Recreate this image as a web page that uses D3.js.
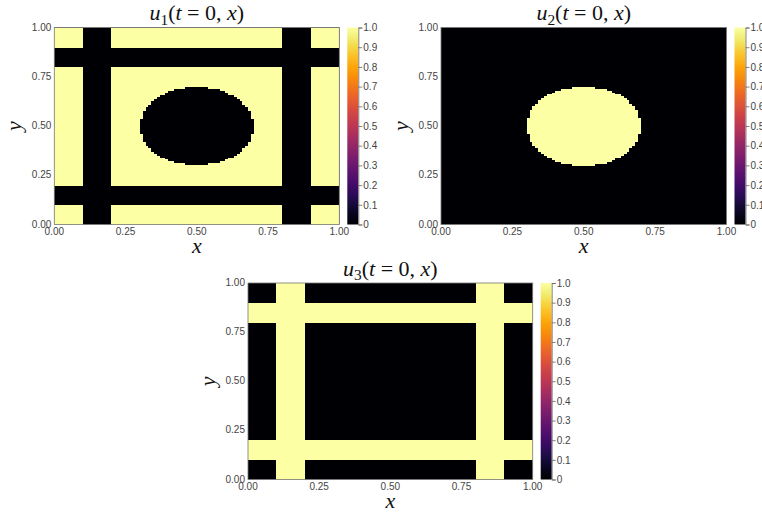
<!DOCTYPE html>
<html>
<head>
<meta charset="utf-8">
<script src="https://cdn.jsdelivr.net/npm/d3@7"></script>
<style>
  body { margin: 0; background: #fff; }
  .tick-label { font-family: "Liberation Sans", Arial, sans-serif; font-size: 10px; fill: #444; }
  .math { font-family: "Liberation Serif", "Times New Roman", serif; fill: #111; }
</style>
</head>
<body>
<div id="chart"></div>
<script>
'use strict';

// grid resolution of the initial condition
var gridN = 100;

// stripe bands (same in x and y), circle in the middle
var stripeBands = [[0.1, 0.2], [0.8, 0.9]];
var circleCenter = [0.5, 0.5];
var circleRadius = 0.2;

var axisTicks = [0, 0.25, 0.5, 0.75, 1];
var axisTickLabels = ['0.00', '0.25', '0.50', '0.75', '1.00'];
var colorTicks = [0, 0.1, 0.2, 0.3, 0.4, 0.5, 0.6, 0.7, 0.8, 0.9, 1.0];
var colorTickLabels = ['0', '0.1', '0.2', '0.3', '0.4', '0.5', '0.6', '0.7', '0.8', '0.9', '1.0'];

var panelNames = ['1', '2', '3'];

var width = 762, height = 512;

var svg = d3.select('#chart').append('svg')
    .attr('width', width)
    .attr('height', height);

var color = d3.scaleSequential(d3.interpolateInferno).domain([0, 1]);

var inBand = function(v){
    return stripeBands.some(function(b){ return v >= b[0] && v <= b[1]; });
};
var inStripe = function(x, y){
    return inBand(x) || inBand(y);
};
var inCircle = function(x, y){
    var dx = x - circleCenter[0], dy = y - circleCenter[1];
    return dx * dx + dy * dy <= circleRadius * circleRadius;
};

var fields = [
    function(x, y){ return (inStripe(x, y) || inCircle(x, y)) ? 0 : 1; },
    function(x, y){ return inCircle(x, y) ? 1 : 0; },
    function(x, y){ return inStripe(x, y) ? 1 : 0; }
];

// plot boxes
var layouts = [
    {x0: 54.3, x1: 339.3, y0: 27.5, y1: 224.5},
    {x0: 441, x1: 726.5, y0: 27.5, y1: 224.5},
    {x0: 248, x1: 532.7, y0: 283, y1: 479.5}
];

var buildCells = function(fn){
    // runs of value 1 along each row (background is value 0)
    var runs = [];
    var h = 1 / gridN;
    for (var j = 0; j < gridN; j++) {
        var yc = (j + 0.5) * h;
        var start = -1;
        for (var i = 0; i <= gridN; i++) {
            var v = i < gridN ? fn((i + 0.5) * h, yc) : 0;
            if (v === 1 && start < 0) start = i;
            if (v !== 1 && start >= 0) {
                runs.push({x0: start * h, x1: i * h, y0: j * h, y1: (j + 1) * h, v: 1});
                start = -1;
            }
        }
    }
    return runs;
};

var addMath = function(sel, parts, size){
    parts.forEach(function(p){
        var t = sel.append('tspan').text(p.t);
        if (p.i) t.attr('font-style', 'italic');
        if (p.sub) t.attr('font-size', size * 0.7).attr('dy', size * 0.22);
        if (p.up) t.attr('dy', -size * 0.22);
    });
};

var drawPanel = function(k){
    var L = layouts[k];
    var x = d3.scaleLinear().domain([0, 1]).range([L.x0, L.x1]);
    var y = d3.scaleLinear().domain([0, 1]).range([L.y1, L.y0]);
    var g = svg.append('g');

    g.append('rect')
        .attr('x', L.x0).attr('y', L.y0)
        .attr('width', L.x1 - L.x0).attr('height', L.y1 - L.y0)
        .attr('fill', color(0));

    g.append('g')
        .attr('shape-rendering', 'crispEdges')
        .selectAll('.cell')
        .data(buildCells(fields[k]))
        .enter()
        .append('rect')
        .attr('class', 'cell')
        .attr('x', function(d){ return x(d.x0); })
        .attr('y', function(d){ return y(d.y1); })
        .attr('width', function(d){ return x(d.x1) - x(d.x0); })
        .attr('height', function(d){ return y(d.y0) - y(d.y1) + 0.5; })
        .attr('fill', function(d){ return color(d.v); });

    g.append('rect')
        .attr('x', L.x0).attr('y', L.y0)
        .attr('width', L.x1 - L.x0).attr('height', L.y1 - L.y0)
        .attr('fill', 'none').attr('stroke', '#777').attr('stroke-width', 0.8);

    // axis tick labels
    g.selectAll('.xt')
        .data(axisTicks)
        .enter().append('text')
        .attr('class', 'tick-label')
        .attr('x', function(d){ return x(d); })
        .attr('y', L.y1 + 10)
        .attr('text-anchor', 'middle')
        .text(function(d, i){ return axisTickLabels[i]; });

    g.selectAll('.yt')
        .data(axisTicks)
        .enter().append('text')
        .attr('class', 'tick-label')
        .attr('x', L.x0 - 3)
        .attr('y', function(d){ return y(d) + 3; })
        .attr('text-anchor', 'end')
        .text(function(d, i){ return axisTickLabels[i]; });

    // colorbar
    var cbX = L.x1 + 8, cbW = 11;
    var cy = d3.scaleLinear().domain([0, 1]).range([L.y1, L.y0]);
    var gradId = 'grad' + k;
    var grad = svg.append('defs').append('linearGradient')
        .attr('id', gradId)
        .attr('x1', 0).attr('y1', 1).attr('x2', 0).attr('y2', 0);
    d3.range(0, 1.0001, 0.05).forEach(function(t){
        grad.append('stop').attr('offset', t).attr('stop-color', color(t));
    });
    g.append('rect')
        .attr('x', cbX).attr('y', L.y0)
        .attr('width', cbW).attr('height', L.y1 - L.y0)
        .attr('fill', 'url(#' + gradId + ')');

    var cbAxis = d3.axisRight(cy)
        .tickValues(colorTicks)
        .tickFormat(function(d, i){ return colorTickLabels[i]; })
        .tickSize(4)
        .tickPadding(1);
    var ca = g.append('g')
        .attr('transform', 'translate(' + (cbX + cbW) + ',0)')
        .call(cbAxis);
    ca.select('.domain').attr('stroke', '#666').attr('stroke-width', 0.8);
    ca.selectAll('.tick line').attr('stroke', '#666').attr('stroke-width', 0.8);
    ca.selectAll('.tick text').attr('class', 'tick-label').attr('dy', '0.32em');

    // title
    var cx = (L.x0 + L.x1) / 2;
    var title = g.append('text')
        .attr('class', 'math')
        .attr('x', cx).attr('y', L.y0 - 7.5)
        .attr('text-anchor', 'middle')
        .attr('font-size', 22);
    addMath(title, [
        {t: 'u', i: true},
        {t: panelNames[k], sub: true},
        {t: '(', up: true},
        {t: 't', i: true},
        {t: ' = 0, '},
        {t: 'x', i: true},
        {t: ')'}
    ], 22);

    g.append('text')
        .attr('class', 'math')
        .attr('x', cx).attr('y', L.y1 + 28)
        .attr('text-anchor', 'middle')
        .attr('font-size', 22)
        .attr('font-style', 'italic')
        .text('x');

    g.append('text')
        .attr('class', 'math')
        .attr('transform', 'translate(' + (L.x0 - 33) + ',' + ((L.y0 + L.y1) / 2) + ') rotate(-90)')
        .attr('text-anchor', 'middle')
        .attr('font-size', 22)
        .attr('font-style', 'italic')
        .text('y');
};

[0, 1, 2].forEach(drawPanel);
</script>
</body>
</html>
